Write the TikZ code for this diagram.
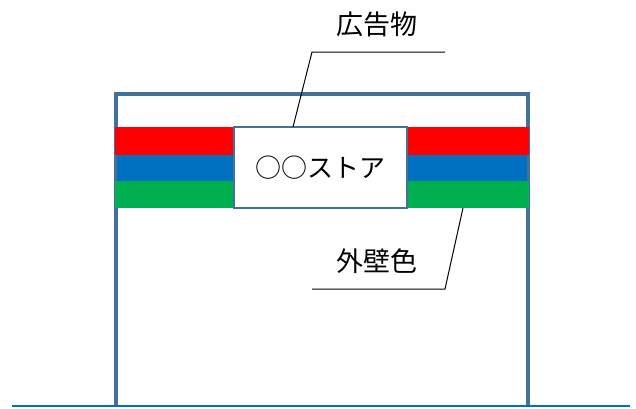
\documentclass[tikz,border=0pt]{standalone}
\usepackage{fontspec}
\setmainfont{Noto Sans CJK JP}
\definecolor{wallline}{HTML}{41719C}
\definecolor{stripered}{HTML}{FF0000}
\definecolor{stripeblue}{HTML}{0070C0}
\definecolor{stripegreen}{HTML}{00B050}
\begin{document}
\begin{tikzpicture}[x=1pt,y=-1pt,
  wall/.style={draw=wallline,line width=3.2pt},
  storebox/.style={draw=wallline,line width=2pt,fill=white,inner sep=0pt,
    minimum width=173pt,minimum height=81pt,
    font=\fontsize{26}{30}\selectfont},
  label/.style={font=\fontsize{27}{32}\selectfont,inner sep=0pt},
  leader/.style={draw=black,line width=1pt},
  ground/.style={draw=stripeblue,line width=2pt}]
\useasboundingbox (0,0) rectangle (636,408);
% building outline
\coordinate (bl) at (116,406);
\coordinate (tl) at (116,94);
\coordinate (tr) at (528,94);
\coordinate (br) at (528,406);
\draw[wall] (bl) -- (tl) -- (tr) -- (br);
% stripes
\fill[stripered]   (115,127) rectangle (234,155);
\fill[stripeblue]  (117,155) rectangle (234,181);
\fill[stripegreen] (115,181) rectangle (234,208);
\fill[stripered]   (407,127) rectangle (529,155);
\fill[stripeblue]  (407,155) rectangle (527,181);
\fill[stripegreen] (407,181) rectangle (529,208);
% ground
\coordinate (g1) at (12,406);
\coordinate (g2) at (630,406);
\draw[ground] (g1) -- (g2);
% store box
\node[storebox] (store) at (320.5,167.5) {○○ストア};
% labels
\node[label] (ad) at (377,24) {広告物};
\node[label] (wallc) at (377,261) {外壁色};
% leader lines
\coordinate (a1) at (293,127);
\coordinate (a2) at (312,52);
\coordinate (a3) at (445,52);
\draw[leader] (a1) -- (a2) -- (a3);
\coordinate (w1) at (463,208);
\coordinate (w2) at (445,289);
\coordinate (w3) at (312,289);
\draw[leader] (w1) -- (w2) -- (w3);
\end{tikzpicture}
\end{document}
